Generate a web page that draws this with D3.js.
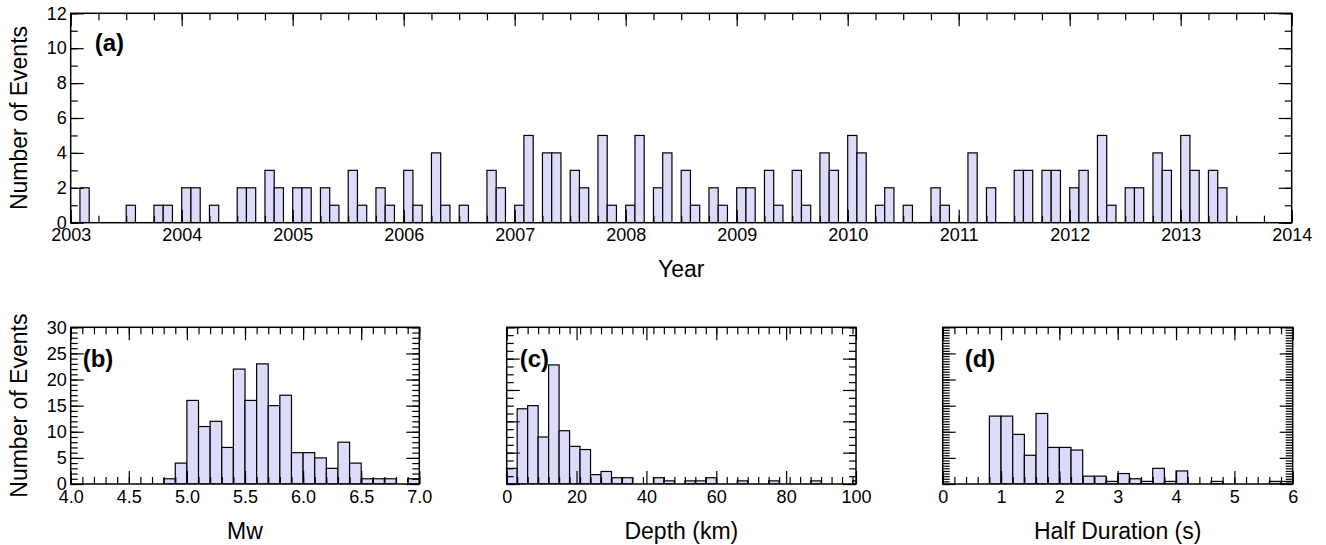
<!DOCTYPE html>
<html>
<head>
<meta charset="utf-8">
<script src="https://cdn.jsdelivr.net/npm/d3@7"></script>
<style>
  body { margin: 0; background: #fff; }
  svg { display: block; }
</style>
</head>
<body>
<svg id="chart" width="1326" height="545"></svg>
<script>
// (a) events per month, month index counted from Jan 2003
const monthsSince2003 = [1, 6, 9, 10, 12, 13, 15, 18, 19, 21, 22, 24, 25, 27, 28, 30, 31, 33, 34, 36,
  37, 39, 40, 42, 45, 46, 48, 49, 51, 52, 54, 55, 57, 58, 60, 61, 63, 64, 66, 67,
  69, 70, 72, 73, 75, 76, 78, 79, 81, 82, 84, 85, 87, 88, 90, 93, 94, 97, 99, 102,
  103, 105, 106, 108, 109, 111, 112, 114, 115, 117, 118, 120, 121, 123, 124];
const monthCounts = [2, 1, 1, 1, 2, 2, 1, 2, 2, 3, 2, 2, 2, 2, 1, 3, 1, 2, 1, 3,
  1, 4, 1, 1, 3, 2, 1, 5, 4, 4, 3, 2, 5, 1, 1, 5, 2, 4, 3, 1,
  2, 1, 2, 2, 3, 1, 3, 1, 4, 3, 5, 4, 1, 2, 1, 2, 1, 4, 2, 3,
  3, 3, 3, 2, 3, 5, 1, 2, 2, 4, 3, 5, 3, 3, 2];

// (b) magnitude, bins of 0.1
const mwStart = [4.8, 4.9, 5.0, 5.1, 5.2, 5.3, 5.4, 5.5, 5.6, 5.7, 5.8, 5.9, 6.0, 6.1, 6.2, 6.3, 6.4, 6.5, 6.6, 6.7, 6.9];
const mwCounts = [1, 4, 16, 11, 12, 7, 22, 16, 23, 15, 17, 6, 6, 5, 3, 8, 4, 1, 1, 1, 1];

// (c) depth, bins of 3 km
const depthStart = [0, 3, 6, 9, 12, 15, 18, 21, 24, 27, 30, 33, 42, 45, 51, 54, 57, 66, 75, 87, 99];
const depthCounts = [5, 24, 25, 15, 38, 17, 12, 11, 3, 4, 2, 2, 2, 1, 1, 1, 2, 1, 1, 1, 1];

// (d) half duration, bins of 0.2 s
const hdStart = [0.8, 1.0, 1.2, 1.4, 1.6, 1.8, 2.0, 2.2, 2.4, 2.6, 2.8, 3.0, 3.2, 3.4, 3.6, 3.8, 4.0, 4.6, 5.6, 5.8];
const hdCounts = [26, 26, 19, 11, 27, 14, 14, 13, 3, 3, 1, 4, 2, 1, 6, 1, 5, 1, 1, 1];

const FONT = "'Liberation Sans', Arial, Helvetica, sans-serif";
const svg = d3.select("#chart");

const steps = (lo, hi, step) => {
  const n = Math.round((hi - lo) / step);
  return d3.range(n + 1).map(i => +(lo + i * step).toFixed(4));
};

function drawPanel(p) {
  const g = svg.append("g");
  const x = d3.scaleLinear().domain(p.xDomain).range([p.left, p.right]);
  const y = d3.scaleLinear().domain(p.yDomain).range([p.bottom, p.top]);

  const clipId = "clip-" + p.tag;
  svg.append("clipPath").attr("id", clipId)
    .append("rect").attr("x", p.left).attr("y", p.top)
    .attr("width", p.right - p.left).attr("height", p.bottom - p.top);

  g.append("g").attr("clip-path", `url(#${clipId})`)
    .selectAll("rect").data(p.starts)
    .join("rect")
      .attr("x", d => x(d))
      .attr("width", d => x(d + p.binWidth) - x(d))
      .attr("y", (d, i) => y(p.counts[i]))
      .attr("height", (d, i) => y(0) - y(p.counts[i]))
      .attr("fill", "#dcdcfa")
      .attr("stroke", "#000")
      .attr("stroke-width", 1.2);

  const xMajor = steps(p.xDomain[0], p.xDomain[1], p.xMajor);
  const xMinor = steps(p.xDomain[0], p.xDomain[1], p.xMinor).filter(v => v <= p.xDomain[1]);
  const yMajor = steps(p.yDomain[0], p.yDomain[1], p.yMajor);
  const yMinor = steps(p.yDomain[0], p.yDomain[1], p.yMinor);

  const put = (axis, tx, ty) => {
    const a = g.append("g").attr("transform", `translate(${tx},${ty})`).call(axis);
    a.select(".domain").remove();
    a.selectAll("line").attr("stroke", "#000").attr("stroke-width", 1.2);
    a.attr("font-size", 18).attr("font-family", FONT);
    a.selectAll("text").attr("fill", "#000");
    return a;
  };

  // bottom + top
  put(d3.axisBottom(x).tickValues(xMinor).tickSize(-7).tickFormat(""), 0, p.bottom);
  put(d3.axisBottom(x).tickValues(xMajor).tickSize(-13).tickPadding(6).tickFormat(p.xFormat), 0, p.bottom);
  put(d3.axisTop(x).tickValues(xMinor).tickSize(-7).tickFormat(""), 0, p.top);
  put(d3.axisTop(x).tickValues(xMajor).tickSize(-13).tickFormat(""), 0, p.top);
  // left + right
  put(d3.axisLeft(y).tickValues(yMinor).tickSize(-7).tickFormat(""), p.left, 0);
  put(d3.axisLeft(y).tickValues(yMajor).tickSize(-13).tickPadding(4)
    .tickFormat(p.yLabels ? d3.format("d") : ""), p.left, 0);
  put(d3.axisRight(y).tickValues(yMinor).tickSize(-7).tickFormat(""), p.right, 0);
  put(d3.axisRight(y).tickValues(yMajor).tickSize(-13).tickFormat(""), p.right, 0);

  g.append("rect")
    .attr("x", p.left).attr("y", p.top)
    .attr("width", p.right - p.left).attr("height", p.bottom - p.top)
    .attr("fill", "none").attr("stroke", "#000").attr("stroke-width", 1.5);

  g.append("text")
    .attr("x", p.left + p.tagDx).attr("y", p.top + p.tagDy)
    .attr("font-family", FONT).attr("font-size", 24).attr("font-weight", "bold")
    .text(`(${p.tag})`);

  g.append("text")
    .attr("x", (p.left + p.right) / 2).attr("y", p.bottom + p.titleDy)
    .attr("text-anchor", "middle")
    .attr("font-family", FONT).attr("font-size", 23)
    .text(p.xTitle);

  if (p.yTitle) {
    g.append("text")
      .attr("transform", `translate(27,${(p.top + p.bottom) / 2}) rotate(-90)`)
      .attr("text-anchor", "middle")
      .attr("font-family", FONT).attr("font-size", 23)
      .text(p.yTitle);
  }
}

drawPanel({
  tag: "a", left: 70.7, right: 1291.7, top: 13.3, bottom: 222.7,
  xDomain: [2003, 2014], yDomain: [0, 12],
  starts: monthsSince2003.map(m => 2003 + m / 12), counts: monthCounts, binWidth: 1 / 12,
  xMajor: 1, xMinor: 0.25, yMajor: 2, yMinor: 1,
  xFormat: d3.format("d"), yLabels: true,
  tagDx: 24, tagDy: 38, xTitle: "Year", titleDy: 54, yTitle: "Number of Events"
});

drawPanel({
  tag: "b", left: 70.7, right: 419.3, top: 327.3, bottom: 484,
  xDomain: [4, 7], yDomain: [0, 30],
  starts: mwStart, counts: mwCounts, binWidth: 0.1,
  xMajor: 0.5, xMinor: 0.1, yMajor: 5, yMinor: 1,
  xFormat: d3.format(".1f"), yLabels: true,
  tagDx: 12, tagDy: 40, xTitle: "Mw", titleDy: 55, yTitle: "Number of Events"
});

drawPanel({
  tag: "c", left: 506.7, right: 856, top: 327.3, bottom: 484,
  xDomain: [0, 100], yDomain: [0, 50],
  starts: depthStart, counts: depthCounts, binWidth: 3,
  xMajor: 20, xMinor: 3, yMajor: 10, yMinor: 2.5,
  xFormat: d3.format("d"), yLabels: false,
  tagDx: 13, tagDy: 40, xTitle: "Depth (km)", titleDy: 55
});

drawPanel({
  tag: "d", left: 942.7, right: 1292.7, top: 327.3, bottom: 484,
  xDomain: [0, 6], yDomain: [0, 60],
  starts: hdStart, counts: hdCounts, binWidth: 0.2,
  xMajor: 1, xMinor: 0.2, yMajor: 10, yMinor: 1,
  xFormat: d3.format("d"), yLabels: false,
  tagDx: 22, tagDy: 40, xTitle: "Half Duration (s)", titleDy: 55
});
</script>
</body>
</html>
